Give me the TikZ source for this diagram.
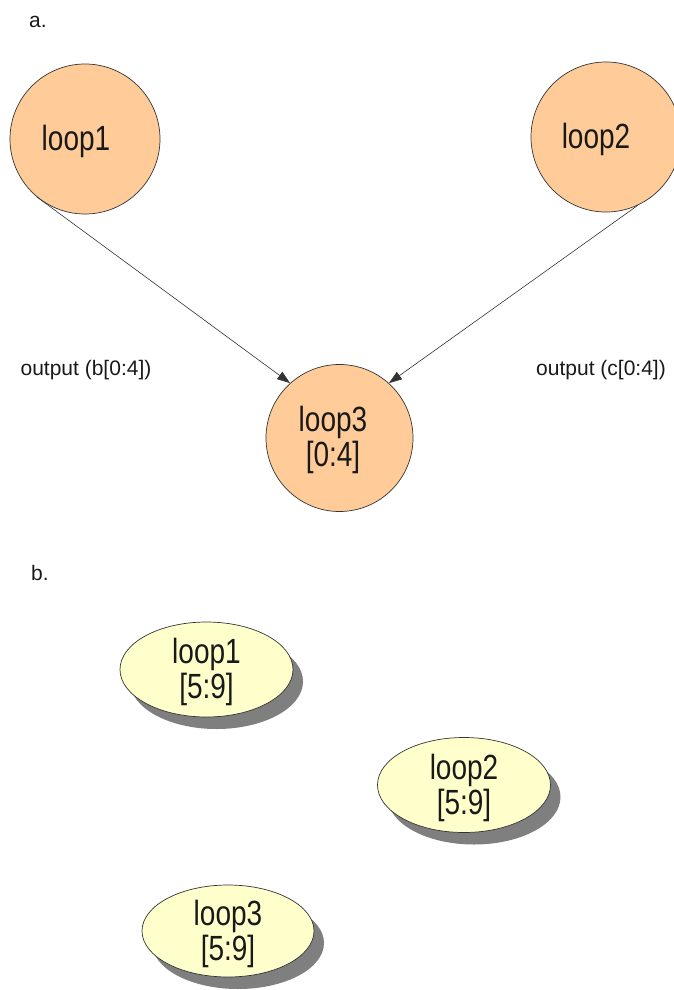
\documentclass[tikz,border=0pt]{standalone}
\usepackage{fontspec}
\setmainfont{Liberation Sans}
\newfontfamily\narrowsans[FakeStretch=0.8]{Liberation Sans}
\usetikzlibrary{arrows.meta,shapes.geometric,shadows}
\definecolor{peach}{HTML}{FFCC99}
\definecolor{paleyellow}{HTML}{FFFFCC}
\definecolor{shadowgray}{HTML}{7F7F7F}
\begin{document}
\begin{tikzpicture}[x=1pt,y=-1pt,
  loopcircle/.style={circle,draw=black!80,line width=0.7pt,fill=peach,inner sep=0pt,minimum size=150pt},
  looptext/.style={font=\narrowsans\fontsize{35}{35}\selectfont,align=center,inner sep=0pt,text=black!90},
  edgelabel/.style={font=\fontsize{21}{24}\selectfont,inner sep=0pt,text=black!90},
  partlabel/.style={font=\fontsize{21}{24}\selectfont,inner sep=0pt,text=black!90},
  loopellipse/.style={ellipse,draw=black!80,line width=0.7pt,fill=paleyellow,inner sep=0pt,
    minimum width=173pt,minimum height=95pt,
    drop shadow={shadow xshift=10pt,shadow yshift=-12pt,fill=shadowgray,opacity=1}},
  flow/.style={draw=black!80,line width=0.6pt,-{Triangle[length=13pt,width=9pt]}}
]
\useasboundingbox (0,0) rectangle (673,990);

% part a: two producers feeding a consumer
\node[partlabel] (pa) at (38,22) {a.};
\node[loopcircle] (c1) at (85,139) {};
\node[looptext] (t1) at (76,141) {loop1};
\node[loopcircle] (c2) at (606,137) {};
\node[looptext] (t2) at (596,139) {loop2};
\node[loopcircle,minimum size=147pt] (c3) at (339.5,438) {};
\node[looptext] (t3) at (333,440) {loop3\\{}[0:4]};

\draw[flow] (c1.230) -- (c3.132);
\draw[flow] (c2.295) -- (c3.48);

\node[edgelabel] (l1) at (86,370) {output (b[0:4])};
\node[edgelabel] (l2) at (601,370) {output (c[0:4])};

% part b: independent loops
\node[partlabel] (pb) at (40,573) {b.};
\node[loopellipse] (e1) at (206.5,669.5) {};
\node[looptext] (f1) at (206.5,672) {loop1\\{}[5:9]};
\node[loopellipse] (e2) at (464,785) {};
\node[looptext] (f2) at (464,788) {loop2\\{}[5:9]};
\node[loopellipse,minimum width=172pt,minimum height=92pt] (e3) at (228,931) {};
\node[looptext] (f3) at (228,934) {loop3\\{}[5:9]};
\end{tikzpicture}
\end{document}
